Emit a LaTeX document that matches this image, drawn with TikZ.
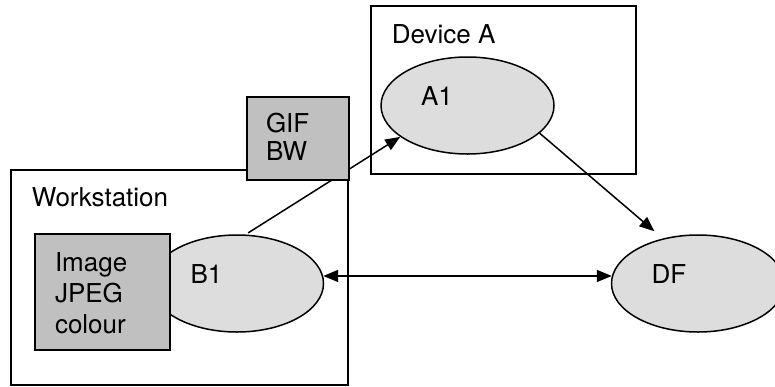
\documentclass[tikz,border=0pt]{standalone}
\usepackage{fontspec}
\setmainfont{TeX Gyre Heros}
\usepackage{xcolor}
\usetikzlibrary{arrows.meta}
\usetikzlibrary{shapes.geometric}
\usetikzlibrary{calc}
\usetikzlibrary{positioning}

\definecolor{ellgray}{HTML}{DDDDDD}
\definecolor{boxgray}{HTML}{C0C0C0}

\begin{document}
\begin{tikzpicture}[x=1pt,y=-1pt,>={Triangle[length=15pt,width=12pt]},line width=1.5pt,
    font=\fontsize{26}{29}\selectfont]
    \tikzstyle{hostbox}=[draw=black, rectangle, inner sep=0pt]
    \tikzstyle{proc}=[draw=black, fill=ellgray, ellipse, inner sep=0pt, minimum width=173pt, minimum height=97pt]
    \tikzstyle{fmt}=[draw=black, fill=boxgray, rectangle, inner sep=0pt]
    \tikzstyle{txt}=[inner sep=0pt, anchor=base west, align=left]
    \useasboundingbox (0,0) rectangle (775,386);

    \node[hostbox, minimum width=337pt, minimum height=215pt] (WS)   at (179.5,277.5) {};
    \node[hostbox, minimum width=265pt, minimum height=168pt] (DevA) at (503.5,90) {};
    \node[txt] (WSlbl)   at (31,206) {Workstation};
    \node[txt] (DevAlbl) at (391,43) {Device A};

    \node[proc] (A1) at (467.5,105.5) {};
    \node[proc] (B1) at (237,283.5) {};
    \node[proc] (DF) at (698,283.5) {};
    \node[txt] (A1lbl) at ([xshift=40pt]A1.west) {A1};
    \node[txt] (B1lbl) at ([xshift=40pt]B1.west) {B1};
    \node[txt] (DFlbl) at ([xshift=40pt]DF.west) {DF};

    \path
        (B1.80)  edge [->, shorten <=3pt] (A1.205)
        (A1.339) edge [->, shorten >=11pt] (DF.128)
        (B1.5)   edge [<->] (DF.175);

    % format boxes sit on top
    \node[fmt, minimum width=102pt, minimum height=83pt]  (GIF) at (298,138.5) {};
    \node[txt, font=\fontsize{26}{28}\selectfont] (GIFlbl)
        at ([xshift=19pt,yshift=-64pt]GIF.north west) {GIF\\BW};
    \node[fmt, minimum width=135pt, minimum height=116pt] (Img) at (102.5,292) {};
    \node[txt, font=\fontsize{26}{31}\selectfont] (Imglbl)
        at ([xshift=20pt,yshift=-100pt]Img.north west) {Image\\JPEG\\colour};
\end{tikzpicture}
\end{document}
